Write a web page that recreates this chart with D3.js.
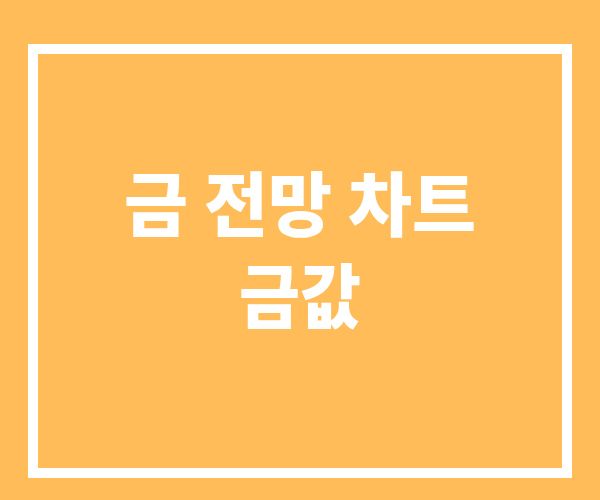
<!DOCTYPE html>
<html><head><meta charset="utf-8">
<script src="https://cdn.jsdelivr.net/npm/d3@7"></script>
<style>html,body{margin:0;padding:0;background:#FFBC58;}svg{display:block;}</style>
</head><body>
<script>
const titleLines = ["금 전망 차트", "금값"];
const lineWidths = [352, 122];

const W = 600, H = 500;
const svg = d3.select("body").append("svg").attr("width", W).attr("height", H);
svg.append("rect").attr("width", W).attr("height", H).attr("fill", "#FFBC58");
svg.append("rect").attr("x", 33).attr("y", 49).attr("width", 534).attr("height", 424)
  .attr("fill", "none").attr("stroke", "#FFFFFF").attr("stroke-width", 10);

const y = d3.scalePoint().domain(titleLines).range([200, 292]);
svg.selectAll("text.t").data(titleLines).join("text")
  .attr("class", "t")
  .attr("x", W / 2).attr("y", d => y(d))
  .attr("text-anchor", "middle").attr("dominant-baseline", "central")
  .attr("font-family", "'Noto Sans CJK KR', sans-serif")
  .attr("font-weight", 900).attr("font-size", 70)
  .attr("fill", "#FFFFFF")
  .attr("textLength", (d, i) => lineWidths[i])
  .attr("lengthAdjust", "spacingAndGlyphs")
  .text(d => d);
</script>
</body></html>
